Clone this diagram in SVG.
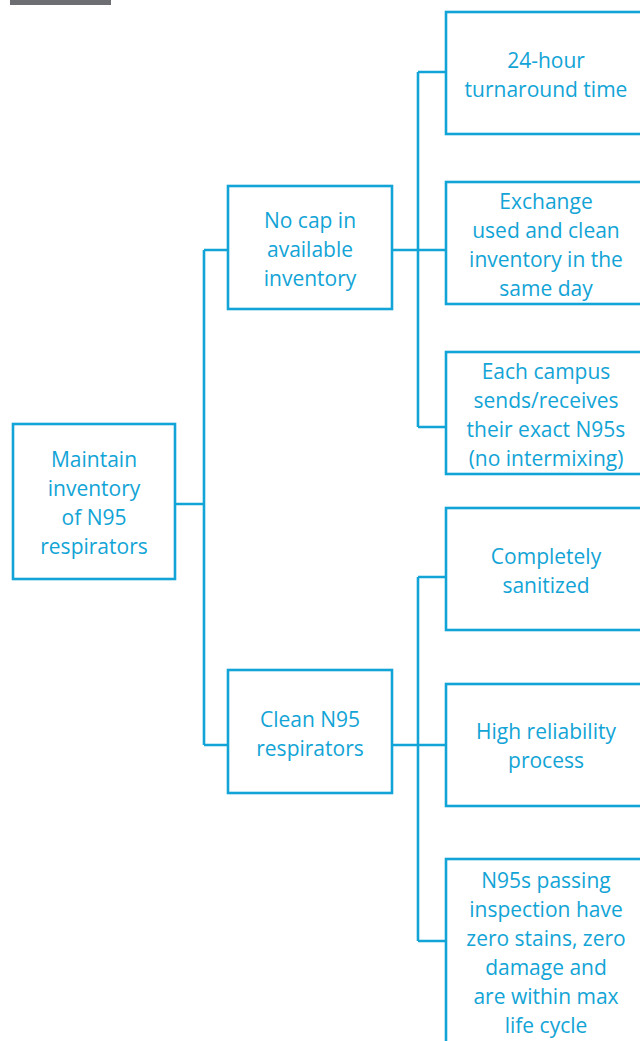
<svg xmlns="http://www.w3.org/2000/svg" width="640" height="1041" viewBox="0 0 640 1041">
<style>
.box{fill:#fff;stroke:#12a4d6;stroke-width:2.6}
.c{fill:none;stroke:#12a4d6;stroke-width:2.6}
text{font-family:"Open Sans",Lato,sans-serif;font-size:21px;fill:#12a4d6;text-anchor:middle}
</style>
<rect x="10" y="0" width="101" height="5" fill="#6d6e71"/>
<g id="connectors">
<path class="c" d="M175,504 H204 M204,250 V745 M204,250 H228 M204,745 H228"/>
<path class="c" d="M392,250 H418 M418,72 V427 M418,72 H446 M418,250 H446 M418,427 H446"/>
<path class="c" d="M392,745 H418 M418,577 V941 M418,577 H446 M418,745 H446 M418,941 H446"/>
</g>
<g id="root"><rect class="box" x="13" y="424" width="162" height="155"/>
<text x="94" y="467">Maintain</text><text x="94" y="496">inventory</text><text x="94" y="525">of N95</text><text x="94" y="554">respirators</text></g>
<g id="nocap"><rect class="box" x="228" y="186" width="164" height="123"/>
<text x="310" y="228">No cap in</text><text x="310" y="257">available</text><text x="310" y="286">inventory</text></g>
<g id="clean"><rect class="box" x="228" y="670" width="164" height="123"/>
<text x="310" y="727">Clean N95</text><text x="310" y="756">respirators</text></g>
<g id="turnaround"><rect class="box" x="446" y="12" width="200" height="122"/>
<text x="546" y="68">24-hour</text><text x="546" y="97">turnaround time</text></g>
<g id="exchange"><rect class="box" x="446" y="182" width="200" height="122"/>
<text x="546" y="209">Exchange</text><text x="546" y="238">used and clean</text><text x="546" y="267">inventory in the</text><text x="546" y="296">same day</text></g>
<g id="campus"><rect class="box" x="446" y="352" width="200" height="122"/>
<text x="546" y="379">Each campus</text><text x="546" y="408">sends/receives</text><text x="546" y="437">their exact N95s</text><text x="546" y="466">(no intermixing)</text></g>
<g id="sanitized"><rect class="box" x="446" y="508" width="200" height="122"/>
<text x="546" y="564">Completely</text><text x="546" y="593">sanitized</text></g>
<g id="reliability"><rect class="box" x="446" y="684" width="200" height="122"/>
<text x="546" y="739">High reliability</text><text x="546" y="768">process</text></g>
<g id="inspection"><rect class="box" x="446" y="859" width="200" height="200"/>
<text x="546" y="888">N95s passing</text><text x="546" y="917">inspection have</text><text x="546" y="946">zero stains, zero</text><text x="546" y="975">damage and</text><text x="546" y="1004">are within max</text><text x="546" y="1033">life cycle</text></g>
</svg>
